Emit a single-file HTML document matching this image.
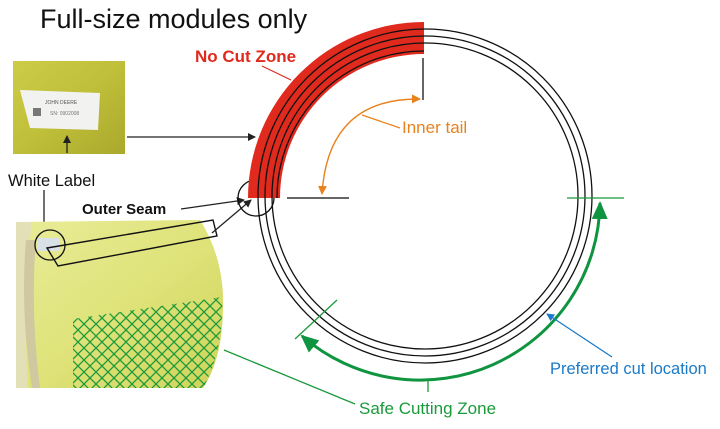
<!DOCTYPE html>
<html><head><style>
body{margin:0;background:#fff;width:720px;height:424px;overflow:hidden;font-family:"Liberation Sans",sans-serif}
</style></head><body>
<svg width="720" height="424" viewBox="0 0 720 424" xmlns="http://www.w3.org/2000/svg">
<defs>
<linearGradient id="g1" x1="0" y1="0" x2="1" y2="1"><stop offset="0" stop-color="#cdcc48"/><stop offset="0.5" stop-color="#bfbf3a"/><stop offset="1" stop-color="#aaa92c"/></linearGradient>
<linearGradient id="g2" x1="0" y1="0" x2="1" y2="1"><stop offset="0" stop-color="#e9ec98"/><stop offset="0.5" stop-color="#dfe37a"/><stop offset="1" stop-color="#cfd45a"/></linearGradient>
<pattern id="hatch" width="12" height="12" patternUnits="userSpaceOnUse"><path d="M0 0L12 12M12 0L0 12" stroke="#1a9a3a" stroke-width="1.3"/></pattern>
<marker id="ab" markerWidth="8" markerHeight="8" refX="7" refY="4" orient="auto" markerUnits="userSpaceOnUse"><path d="M0 0L8 4L0 8z" fill="#222"/></marker>
<marker id="ao" markerWidth="9" markerHeight="9" refX="8" refY="4.5" orient="auto-start-reverse" markerUnits="userSpaceOnUse"><path d="M0 0L9 4.5L0 9z" fill="#e8821e"/></marker>
<marker id="abl" markerWidth="8" markerHeight="8" refX="7" refY="4" orient="auto" markerUnits="userSpaceOnUse"><path d="M0 0L8 4L0 8z" fill="#1a7ac8"/></marker>
<marker id="ag" markerWidth="18" markerHeight="16" refX="16" refY="8" orient="auto-start-reverse" markerUnits="userSpaceOnUse"><path d="M0 0L18 8L0 16z" fill="#0f9440"/></marker>
</defs>
<text x="40" y="28" font-size="27" fill="#111">Full-size modules only</text>
<!-- top photo -->
<rect x="13" y="61" width="112" height="93" fill="url(#g1)"/>
<path d="M20 90 L100 93 L98 130 L30 128z" fill="#f2f2f0"/>
<text x="45" y="104" font-size="5" fill="#555">JOHN DEERE</text>
<text x="50" y="115" font-size="5" fill="#777">SN: 0902008</text>
<rect x="33" y="108" width="8" height="8" fill="#777"/>
<line x1="67" y1="153" x2="67" y2="136" stroke="#222" stroke-width="1.3" marker-end="url(#ab)"/>
<line x1="127" y1="137" x2="255" y2="137" stroke="#222" stroke-width="1.3" marker-end="url(#ab)"/>
<text x="8" y="186" font-size="16.5" fill="#111">White Label</text>
<line x1="44" y1="190" x2="44" y2="225" stroke="#222" stroke-width="1.3"/>
<!-- bottom photo -->
<path d="M16 222 L200 220 Q225 260 223 310 Q222 360 203 388 L16 388z" fill="url(#g2)"/>
<path d="M16 222 L32 222 Q22 290 28 388 L16 388z" fill="#e3e0b8"/>
<path d="M26 240 Q20 310 32 388 L40 388 Q30 310 36 240z" fill="#cfc8a0"/>
<rect x="37" y="238" width="23" height="13" fill="#d8e0e8"/>
<circle cx="50" cy="245" r="15" fill="none" stroke="#111" stroke-width="1.3"/>
<path d="M47 248 L213 220 L217 236 L58 266z" fill="none" stroke="#111" stroke-width="1.4"/>
<path d="M73 319 L222 297 Q224 350 203 388 L73 388z" fill="url(#hatch)"/>
<text x="82" y="214" font-size="15" font-weight="bold" fill="#111">Outer Seam</text>
<line x1="181" y1="209" x2="244" y2="200" stroke="#222" stroke-width="1.3" marker-end="url(#ab)"/>
<line x1="212" y1="233" x2="251" y2="200" stroke="#222" stroke-width="1.3" marker-end="url(#ab)"/>
<circle cx="256" cy="198" r="18" fill="none" stroke="#111" stroke-width="1.3"/>
<!-- red band -->
<path d="M248 198 A176 176 0 0 1 424 22 L424 54 A144 144 0 0 0 280 198z" fill="#e02a1e"/>
<text x="195" y="62" font-size="17" font-weight="bold" fill="#e02a1e">No Cut Zone</text>
<line x1="262" y1="66" x2="291" y2="80" stroke="#e02a1e" stroke-width="1.2"/>
<!-- circles -->
<g fill="none" stroke="#111" stroke-width="1.3">
<circle cx="425" cy="196" r="167"/>
<circle cx="425" cy="196" r="160"/>
<circle cx="425" cy="196" r="153"/>
<path d="M277 198 A147 147 0 0 1 424 51"/>
</g>
<line x1="423" y1="58" x2="423" y2="100" stroke="#333" stroke-width="1.5"/>
<line x1="287" y1="198" x2="349" y2="198" stroke="#333" stroke-width="1.5"/>
<path d="M322 194 Q328 98 420 99" fill="none" stroke="#e8821e" stroke-width="1.4" marker-start="url(#ao)" marker-end="url(#ao)"/>
<line x1="362" y1="115" x2="400" y2="128" stroke="#e8821e" stroke-width="1.3"/>
<text x="402" y="133" font-size="17" fill="#e8821e">Inner tail</text>
<!-- green -->
<line x1="567" y1="198" x2="624" y2="198" stroke="#1a9a3a" stroke-width="1.3"/>
<line x1="295" y1="339" x2="337" y2="300" stroke="#1a9a3a" stroke-width="1.3"/>
<path d="M600 203 A180 180 0 0 1 302 336" fill="none" stroke="#0f9440" stroke-width="3" marker-start="url(#ag)" marker-end="url(#ag)"/>
<line x1="428" y1="380" x2="428" y2="392" stroke="#1a9a3a" stroke-width="1.3"/>
<line x1="224" y1="350" x2="355" y2="404" stroke="#1a9a3a" stroke-width="1.3"/>
<text x="359" y="414" font-size="17" fill="#1a9a3a">Safe Cutting Zone</text>
<line x1="612" y1="357" x2="547" y2="314" stroke="#1a7ac8" stroke-width="1.3" marker-end="url(#abl)"/>
<text x="550" y="374" font-size="16.5" fill="#1a7ac8">Preferred cut location</text>
</svg>
</body></html>
